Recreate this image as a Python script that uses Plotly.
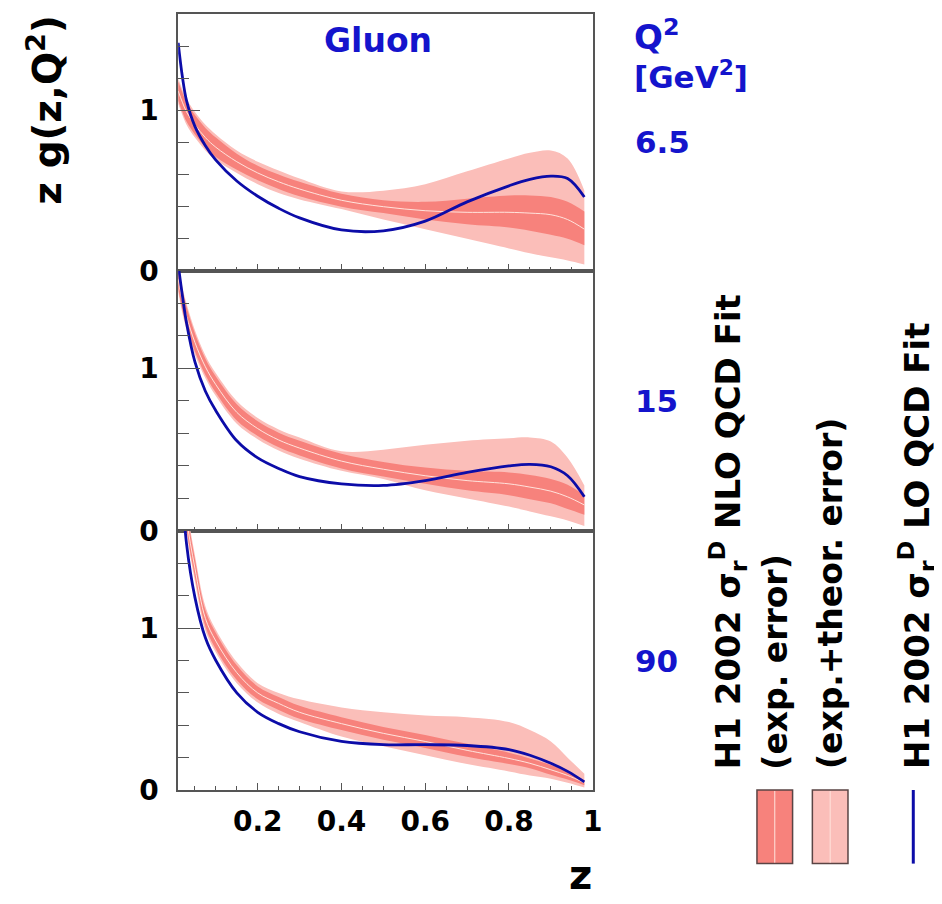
import plotly.graph_objects as go

# ---------------- data ----------------
Z = [0.01, 0.02, 0.03, 0.05, 0.075, 0.1, 0.15, 0.2, 0.25, 0.3, 0.4, 0.5,
     0.6, 0.7, 0.8, 0.85, 0.9, 0.94, 0.98]

Q2_LABELS = ["6.5", "15", "90"]

# Q^2 = 6.5 GeV^2
lo_fit_65 = [1.42, 1.21, 1.06, 0.90, 0.78, 0.69, 0.56, 0.465, 0.39, 0.33, 0.255, 0.25,
             0.31, 0.43, 0.53, 0.57, 0.59, 0.575, 0.46]
nlo_c_65 = [1.12, 1.05, 0.99, 0.91, 0.83, 0.77, 0.68, 0.61, 0.555, 0.51, 0.44, 0.40,
            0.375, 0.365, 0.365, 0.36, 0.35, 0.32, 0.26]
exp_hi_65 = [1.18, 1.11, 1.05, 0.97, 0.89, 0.83, 0.73, 0.655, 0.60, 0.555, 0.48, 0.44,
             0.43, 0.45, 0.47, 0.47, 0.46, 0.43, 0.37]
exp_lo_65 = [1.06, 0.99, 0.93, 0.85, 0.77, 0.71, 0.63, 0.565, 0.51, 0.465, 0.40, 0.36,
             0.32, 0.29, 0.27, 0.25, 0.225, 0.20, 0.16]
tot_hi_65 = [1.20, 1.13, 1.07, 0.99, 0.91, 0.85, 0.75, 0.68, 0.625, 0.575, 0.495, 0.50,
             0.54, 0.62, 0.70, 0.735, 0.75, 0.70, 0.50]
tot_lo_65 = [1.04, 0.97, 0.91, 0.83, 0.75, 0.69, 0.61, 0.54, 0.485, 0.445, 0.385, 0.32,
             0.26, 0.20, 0.14, 0.11, 0.085, 0.065, 0.04]

# Q^2 = 15 GeV^2
lo_fit_15 = [1.64, 1.45, 1.28, 1.04, 0.86, 0.74, 0.555, 0.45, 0.385, 0.335, 0.29, 0.28,
             0.31, 0.36, 0.40, 0.41, 0.395, 0.34, 0.21]
nlo_c_15 = [1.55, 1.42, 1.32, 1.16, 1.01, 0.90, 0.73, 0.63, 0.56, 0.51, 0.43, 0.38,
            0.34, 0.31, 0.29, 0.27, 0.245, 0.21, 0.16]
exp_hi_15 = [1.61, 1.48, 1.38, 1.215, 1.06, 0.95, 0.78, 0.675, 0.605, 0.555, 0.475, 0.425,
             0.39, 0.37, 0.36, 0.345, 0.32, 0.285, 0.22]
exp_lo_15 = [1.49, 1.36, 1.26, 1.105, 0.96, 0.85, 0.68, 0.585, 0.515, 0.465, 0.385, 0.335,
             0.29, 0.25, 0.22, 0.195, 0.17, 0.135, 0.10]
tot_hi_15 = [1.63, 1.50, 1.40, 1.235, 1.08, 0.97, 0.80, 0.695, 0.625, 0.575, 0.49, 0.50,
             0.53, 0.555, 0.57, 0.575, 0.55, 0.45, 0.28]
tot_lo_15 = [1.47, 1.34, 1.24, 1.085, 0.94, 0.83, 0.66, 0.565, 0.495, 0.445, 0.37, 0.32,
             0.25, 0.20, 0.15, 0.12, 0.09, 0.065, 0.03]

# Q^2 = 90 GeV^2
lo_fit_90 = [2.40, 1.85, 1.52, 1.19, 0.94, 0.80, 0.60, 0.48, 0.41, 0.36, 0.30, 0.28,
             0.28, 0.275, 0.25, 0.215, 0.165, 0.115, 0.05]
nlo_c_90 = [2.60, 2.00, 1.68, 1.37, 1.06, 0.92, 0.725, 0.60, 0.535, 0.48, 0.41, 0.35,
            0.30, 0.245, 0.195, 0.165, 0.125, 0.09, 0.045]
exp_hi_90 = [2.66, 2.06, 1.74, 1.425, 1.11, 0.97, 0.77, 0.64, 0.575, 0.52, 0.45, 0.39,
             0.34, 0.285, 0.23, 0.195, 0.155, 0.115, 0.06]
exp_lo_90 = [2.54, 1.94, 1.62, 1.315, 1.01, 0.87, 0.68, 0.56, 0.495, 0.44, 0.37, 0.31,
             0.26, 0.205, 0.16, 0.135, 0.095, 0.065, 0.03]
tot_hi_90 = [2.68, 2.08, 1.76, 1.45, 1.135, 0.99, 0.79, 0.66, 0.60, 0.56, 0.51, 0.48,
             0.46, 0.45, 0.42, 0.37, 0.30, 0.20, 0.10]
tot_lo_90 = [2.52, 1.92, 1.60, 1.29, 0.985, 0.85, 0.66, 0.54, 0.47, 0.42, 0.33, 0.27,
             0.215, 0.16, 0.115, 0.09, 0.07, 0.045, 0.015]

X_TICKS = [0.2, 0.4, 0.6, 0.8, 1.0]
X_TICK_TEXT = ["0.2", "0.4", "0.6", "0.8", "1"]
Y_TICKS = [0, 1]
Y_TICK_TEXT = ["0", "1"]

# ---------------- styling ----------------
W, H = 942, 904
OUTER = "#FBBEB9"
INNER = "#F7827C"
CENTER_LINE = "#FFE3DC"
BLUE_LINE = "#0C0CA8"
TEXT_BLUE = "#1414CC"
FRAME = "#555555"
FONT = "DejaVu Sans, Liberation Sans, Arial, sans-serif"


def px(xp):
    return xp / W


def py(yp):
    return 1 - yp / H


panels = [
    (tot_lo_65, tot_hi_65, exp_lo_65, exp_hi_65, nlo_c_65, lo_fit_65),
    (tot_lo_15, tot_hi_15, exp_lo_15, exp_hi_15, nlo_c_15, lo_fit_15),
    (tot_lo_90, tot_hi_90, exp_lo_90, exp_hi_90, nlo_c_90, lo_fit_90),
]
frames = [(6, 268), (268, 533), (533, 797)]
X_LEFT, X_RIGHT = 172, 591

fig = go.Figure()
for i, (tlo, thi, elo, ehi, cen, lof) in enumerate(panels):
    xa = "x" if i == 0 else f"x{i+1}"
    ya = "y" if i == 0 else f"y{i+1}"
    common = dict(x=Z, xaxis=xa, yaxis=ya, showlegend=False, hoverinfo="skip")
    fig.add_trace(go.Scatter(y=tlo, mode="lines", line=dict(width=0, shape="spline"), **common))
    fig.add_trace(go.Scatter(y=thi, mode="lines", line=dict(width=0, shape="spline"),
                             fill="tonexty", fillcolor=OUTER, **common))
    fig.add_trace(go.Scatter(y=elo, mode="lines", line=dict(width=0, shape="spline"), **common))
    fig.add_trace(go.Scatter(y=ehi, mode="lines", line=dict(width=0, shape="spline"),
                             fill="tonexty", fillcolor=INNER, **common))
    fig.add_trace(go.Scatter(y=cen, mode="lines",
                             line=dict(width=1, color=CENTER_LINE, shape="spline"), **common))
    fig.add_trace(go.Scatter(y=lof, mode="lines",
                             line=dict(width=2.8, color=BLUE_LINE, shape="spline"), **common))

layout = dict(
    width=W, height=H,
    margin=dict(l=0, r=0, t=0, b=0),
    paper_bgcolor="white", plot_bgcolor="white",
    font=dict(family=FONT, color="black"),
)

TICKFONT = dict(family=FONT, size=28, color="black", weight="bold")

for i, (top, bot) in enumerate(frames):
    xk = "xaxis" if i == 0 else f"xaxis{i+1}"
    yk = "yaxis" if i == 0 else f"yaxis{i+1}"
    ya = "y" if i == 0 else f"y{i+1}"
    xa = "x" if i == 0 else f"x{i+1}"
    layout[xk] = dict(
        domain=[px(X_LEFT), px(X_RIGHT)], anchor=ya, range=[0.01, 1.0],
        showgrid=False, zeroline=False,
        showline=True, linecolor=FRAME, linewidth=1.5, mirror=True,
        tickmode="array", tickvals=X_TICKS, ticktext=X_TICK_TEXT,
        ticks="inside", ticklen=7, tickwidth=1.2, tickcolor=FRAME,
        minor=dict(ticks="inside", ticklen=4, tickwidth=1.2, tickcolor=FRAME,
                   tickmode="linear", tick0=0, dtick=0.05),
        showticklabels=(i == 2),
        tickfont=TICKFONT,
        ticklabelstandoff=6,
    )
    layout[yk] = dict(
        domain=[py(bot), py(top)], anchor=xa, range=[0, 1.6],
        showgrid=False, zeroline=False,
        showline=True, linecolor=FRAME, linewidth=1.5, mirror=True,
        tickmode="array", tickvals=Y_TICKS, ticktext=Y_TICK_TEXT,
        ticks="inside", ticklen=22, tickwidth=1.2, tickcolor=FRAME,
        minor=dict(ticks="inside", ticklen=11, tickwidth=1.2, tickcolor=FRAME,
                   tickmode="linear", tick0=0, dtick=0.2),
        tickfont=TICKFONT,
        ticklabelstandoff=12,
    )

ann = []


def add_text(text, x, y, size, color="black", xanchor="center", yanchor="middle", angle=0):
    ann.append(dict(text=text, x=px(x), y=py(y), xref="paper", yref="paper",
                    xanchor=xanchor, yanchor=yanchor, showarrow=False, textangle=angle,
                    font=dict(family=FONT, size=size, color=color, weight="bold")))


add_text("z g(z,Q<sup>2</sup>)", 37, 104, 39, angle=-90)
add_text("Gluon", 374, 33, 33, color=TEXT_BLUE)
add_text("Q<sup>2</sup>", 631, 28, 34, color=TEXT_BLUE, xanchor="left")
add_text("[GeV<sup>2</sup>]", 631, 68, 31, color=TEXT_BLUE, xanchor="left")
for lab, yc in zip(Q2_LABELS, [137, 401, 666]):
    add_text(lab, 632, yc, 31, color=TEXT_BLUE, xanchor="left")
add_text("z", 579, 884, 40)

add_text("H1 2002 σ<sub>r</sub><sup>D</sup> NLO QCD Fit", 728, 778, 34,
         yanchor="bottom", angle=-90)
add_text("(exp. error)", 776, 778, 33, yanchor="bottom", angle=-90)
add_text("(exp.+theor. error)", 832, 778, 33, yanchor="bottom", angle=-90)
add_text("H1 2002 σ<sub>r</sub><sup>D</sup> LO QCD Fit", 919, 778, 34,
         yanchor="bottom", angle=-90)

layout["annotations"] = ann

shapes = []
for (x0, x1, col) in [(757, 793, INNER), (813, 849, OUTER)]:
    shapes.append(dict(type="rect", xref="paper", yref="paper",
                       x0=px(x0), x1=px(x1), y0=py(872), y1=py(797),
                       fillcolor=col, line=dict(color="#5A4444", width=1.5)))
    xm = (x0 + x1) / 2
    shapes.append(dict(type="line", xref="paper", yref="paper",
                       x0=px(xm), x1=px(xm), y0=py(871), y1=py(798),
                       line=dict(color=CENTER_LINE, width=1)))
shapes.append(dict(type="line", xref="paper", yref="paper",
                   x0=px(915), x1=px(915), y0=py(872), y1=py(797),
                   line=dict(color=BLUE_LINE, width=3)))
layout["shapes"] = shapes

fig.update_layout(**layout)
fig.write_html("out.html")
